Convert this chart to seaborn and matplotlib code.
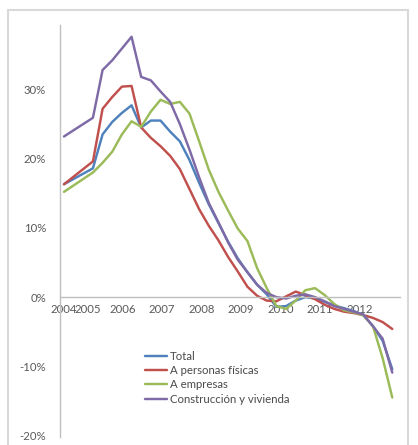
import matplotlib
matplotlib.use("Agg")
import matplotlib.pyplot as plt
from matplotlib.patches import Rectangle
from matplotlib.ticker import FuncFormatter, FixedLocator, MultipleLocator
import pandas as pd
import seaborn as sns

# Quarter index of each observation (first two years are sparse)
periodo = [0] + list(range(3, 35))

total = [16.3, 18.6, 23.5, 25.3, 26.6, 27.7, 24.5, 25.5, 25.5, 23.9, 22.5,
         19.8, 16.5, 13.4, 10.7, 8.0, 5.6, 3.6, 1.8, 0.4, -1.4, -1.3, -0.5,
         0.0, -0.2, -0.7, -1.2, -1.6, -2.0, -2.6, -4.2, -6.3, -10.4]
personas = [16.3, 19.6, 27.2, 28.9, 30.4, 30.5, 24.5, 23.0, 21.8, 20.4, 18.5,
            15.6, 12.7, 10.3, 8.2, 5.8, 3.7, 1.5, 0.2, -0.5, -0.6, 0.1, 0.8,
            0.3, -0.3, -1.1, -1.7, -2.1, -2.3, -2.6, -3.0, -3.6, -4.6]
empresas = [15.2, 18.0, 19.4, 21.0, 23.5, 25.4, 24.6, 26.8, 28.5, 27.9, 28.2,
            26.5, 22.5, 18.4, 15.2, 12.5, 9.9, 8.1, 4.2, 1.3, -1.3, -1.7, -0.5,
            1.0, 1.3, 0.3, -1.0, -1.9, -2.2, -2.6, -4.2, -8.8, -14.5]
construccion = [23.2, 25.9, 32.8, 34.2, 35.9, 37.6, 31.8, 31.3, 29.7, 28.2,
                25.0, 21.3, 17.3, 13.6, 10.8, 7.9, 5.4, 3.6, 1.8, 0.6, 0.0,
                -0.2, 0.2, 0.4, 0.0, -0.6, -1.3, -1.7, -2.1, -2.5, -4.2, -6.0,
                -10.9]

series = ["Total", "A personas físicas", "A empresas", "Construcción y vivienda"]
colores = ["#4F81BD", "#C0504D", "#9BBB59", "#7E6AA6"]

anios = ["2004", "2005", "2006", "2007", "2008", "2009", "2010", "2011", "2012"]
pos_anios = [0.0, 2.5, 6.1, 10.1, 14.3, 18.3, 22.4, 26.5, 30.6]

df = pd.DataFrame({
    "periodo": periodo * 4,
    "valor": total + personas + empresas + construccion,
    "serie": [s for s, v in zip(series, [total, personas, empresas, construccion]) for _ in v],
})

sns.set_style("white")
plt.rcParams["font.family"] = ["Lato", "DejaVu Sans"]

W, H = 418, 445
fig = plt.figure(figsize=(W / 100, H / 100), dpi=100)
ax = fig.add_axes([60 / W, 1 - 437 / H, 340 / W, 412 / H])

sns.lineplot(data=df, x="periodo", y="valor", hue="serie", hue_order=series,
             palette=colores, linewidth=1.75, ax=ax, legend=True)

ax.set_xlim(-0.41, 34.8)
ax.set_ylim(-20.2, 39.3)
ax.set_xlabel("")
ax.set_ylabel("")

texto = "#595959"

for s in ["top", "right"]:
    ax.spines[s].set_visible(False)
ax.spines["left"].set_color("#bfbfbf")
ax.spines["left"].set_linewidth(1.0)
ax.spines["bottom"].set_position(("data", 0))
ax.spines["bottom"].set_color("#bfbfbf")
ax.spines["bottom"].set_linewidth(1.0)

ax.yaxis.set_major_locator(FixedLocator([-20, -10, 0, 10, 20, 30]))
ax.yaxis.set_major_formatter(FuncFormatter(lambda v, p: f"{v:.0f}%"))
ax.tick_params(axis="y", direction="out", length=4, width=0.8, color="#bfbfbf",
               labelsize=8.2, labelcolor=texto, pad=6)

ax.xaxis.set_major_locator(FixedLocator(pos_anios))
ax.set_xticklabels(anios)
ax.xaxis.set_minor_locator(MultipleLocator(1))
ax.tick_params(axis="x", which="major", length=0, labelsize=8.2,
               labelcolor=texto, pad=5)
ax.tick_params(axis="x", which="minor", direction="inout", length=4,
               width=0.8, color="#bfbfbf")

handles, labels = ax.get_legend_handles_labels()
leg = ax.legend(handles, labels, loc="upper left",
                bbox_to_anchor=((140 - 60) / 340, (437 - 346) / 412),
                frameon=False, fontsize=8.2, handlelength=2.0,
                handletextpad=0.2, labelspacing=0.3, borderaxespad=0)
for t in leg.get_texts():
    t.set_color("#4a4a4a")

fig.patches.append(Rectangle((8 / W, -0.01), 400 / W, 1 - 10 / H + 0.01,
                             transform=fig.transFigure, fill=False,
                             edgecolor="#d9d9d9", linewidth=1.5))

fig.savefig("out.png", dpi=100)
